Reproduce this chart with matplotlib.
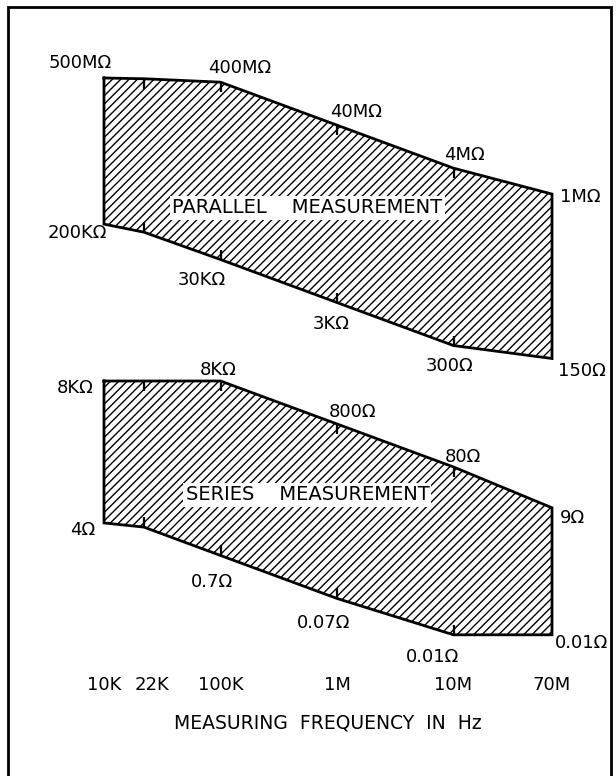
import matplotlib.pyplot as plt
import matplotlib.transforms as mtransforms
from matplotlib.patches import Rectangle

plt.rcParams['hatch.linewidth'] = 1.0
plt.rcParams['hatch.color'] = 'black'

# measuring frequency (Hz) and tick labels
freq = [10e3, 22e3, 100e3, 1e6, 10e6, 70e6]
freq_labels = ['10K', '22K', '100K', '1M', '10M', '70M']

# parallel measurement range (ohms)
par_upper = [500e6, 480e6, 400e6, 40e6, 4e6, 1e6]
par_lower = [200e3, 130e3, 30e3, 3e3, 300, 150]
par_upper_labels = ['500MΩ', '', '400MΩ', '40MΩ', '4MΩ', '1MΩ']
par_lower_labels = ['200KΩ', '', '30KΩ', '3KΩ', '300Ω', '150Ω']

# series measurement range (ohms)
ser_upper = [8e3, 8e3, 8e3, 800, 80, 9]
ser_lower = [4, 3.2, 0.7, 0.07, 0.01, 0.01]
ser_upper_labels = ['8KΩ', '', '8KΩ', '800Ω', '80Ω', '9Ω']
ser_lower_labels = ['4Ω', '', '0.7Ω', '0.07Ω', '0.01Ω', '0.01Ω']

# label placement (pixels, +y up) and alignment
par_upper_off = [(8, 15, 'right'), None, (19, 14, 'center'), (19, 13, 'center'), (11, 13, 'center'), (8, -3, 'left')]
par_lower_off = [(3, -9, 'right'), None, (-19, -20, 'center'), (-6, -21, 'center'), (-4, -20, 'center'), (6, -12, 'left')]
ser_upper_off = [(-10, -7, 'right'), None, (-2, 11, 'center'), (15, 12, 'center'), (9, 10, 'center'), (8, -10, 'left')]
ser_lower_off = [(-9, -7, 'right'), None, (-9, -27, 'center'), (-13, -25, 'center'), (-21, -22, 'center'), (3, -8, 'left')]

W, H = 616, 776
fig = plt.figure(figsize=(W / 100, H / 100), dpi=100)
left, width = 104 / W, (552 - 104) / W
ax_p = fig.add_axes([left, 1 - 358.5 / H, width, (358.5 - 78) / H])
ax_s = fig.add_axes([left, 1 - 634.8 / H, width, (634.8 - 381) / H])


def draw_range(ax, upper, lower, up_labels, low_labels, up_off, low_off, title, ty):
    ax.set_xscale('log')
    ax.set_yscale('log')
    ax.set_xlim(freq[0], freq[-1])
    ax.set_ylim(min(lower), max(upper))
    ax.fill_between(freq, lower, upper, facecolor='white', edgecolor='black',
                    hatch='////', linewidth=0)
    xs = freq + freq[::-1] + [freq[0]]
    ys = upper + lower[::-1] + [upper[0]]
    ax.plot(xs, ys, color='black', lw=2.0, clip_on=False, solid_joinstyle='miter')
    ax.plot(freq[1:-1], upper[1:-1], ls='none', marker=3, ms=7, mew=1.6, color='black')
    ax.plot(freq[1:-1], lower[1:-1], ls='none', marker=2, ms=7, mew=1.6, color='black')
    for vals, labs, offs in [(upper, up_labels, up_off), (lower, low_labels, low_off)]:
        for f, v, lab, off in zip(freq, vals, labs, offs):
            if not lab:
                continue
            dx, dy, ha = off
            ax.annotate(lab, (f, v), xytext=(dx * 0.72, dy * 0.72), textcoords='offset points',
                        ha=ha, va='center', fontsize=13)
    ax.text(0.454, ty, title, transform=ax.transAxes, ha='center', va='center', fontsize=14,
            bbox=dict(facecolor='white', edgecolor='none', pad=1.5))
    for s in ax.spines.values():
        s.set_visible(False)
    ax.set_yticks([])
    ax.minorticks_off()


draw_range(ax_p, par_upper, par_lower, par_upper_labels, par_lower_labels,
           par_upper_off, par_lower_off, 'PARALLEL    MEASUREMENT', 0.537)
draw_range(ax_s, ser_upper, ser_lower, ser_upper_labels, ser_lower_labels,
           ser_upper_off, ser_lower_off, 'SERIES    MEASUREMENT', 0.551)

ax_p.set_xticks([])
ax_s.set_xticks(freq)
ax_s.set_xticklabels(freq_labels, fontsize=13)
ax_s.tick_params(axis='x', length=0, pad=30)
# nudge the crowded 22K label a little to the right
lab22 = ax_s.get_xticklabels()[1]
lab22.set_transform(lab22.get_transform() + mtransforms.ScaledTranslation(6 / 72, 0, fig.dpi_scale_trans))
ax_s.set_xlabel('MEASURING  FREQUENCY  IN  Hz', fontsize=13.5, labelpad=14)

fig.add_artist(Rectangle((8 / W, -0.1), (611 - 8) / W, 1 - 7 / H + 0.1,
                         transform=fig.transFigure, fill=False, lw=2, color='black'))

fig.savefig('out.png', dpi=100, facecolor='white')
